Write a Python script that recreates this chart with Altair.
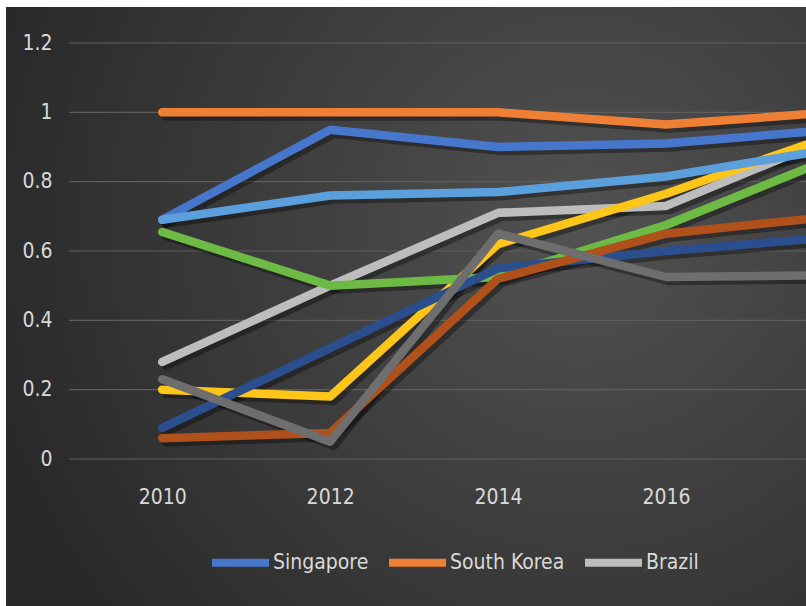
import altair as alt
import pandas as pd

years = [2010, 2012, 2014, 2016, 2018]
series_names = ["Singapore", "South Korea", "Brazil", "Series 4", "Series 5",
                "Series 6", "Series 7", "Series 8", "Series 9"]
singapore = [0.69, 0.95, 0.90, 0.91, 0.95]
south_korea = [1.0, 1.0, 1.0, 0.965, 1.0]
brazil = [0.28, 0.50, 0.71, 0.73, 0.93]
series4 = [0.20, 0.18, 0.62, 0.765, 0.935]
series5 = [0.69, 0.76, 0.77, 0.815, 0.895]
series6 = [0.655, 0.50, 0.525, 0.675, 0.87]
series7 = [0.09, 0.32, 0.55, 0.60, 0.64]
series8 = [0.06, 0.075, 0.52, 0.65, 0.70]
series9 = [0.23, 0.05, 0.65, 0.525, 0.53]
all_values = [singapore, south_korea, brazil, series4, series5,
              series6, series7, series8, series9]
colors = ["#4677CC", "#EE7F34", "#BDBDBD", "#FFC61A", "#5BA0DC",
          "#6DBB45", "#2B4F8E", "#B0501A", "#6E6E6E"]
legend_names = ["Singapore", "South Korea", "Brazil"]
y_ticks = [0, 0.2, 0.4, 0.6, 0.8, 1.0, 1.2]
x_ticks = [2010, 2012, 2014, 2016]

FONT = "DejaVu Sans Condensed, Liberation Sans Narrow, sans-serif"
TXT = "#d9d9d9"

rows = []
for name, vals in zip(series_names, all_values):
    for yr, v in zip(years, vals):
        rows.append({"series": name, "year": yr, "value": v})
df = pd.DataFrame(rows)

xscale = alt.Scale(domain=[2008.89, 2017.667], nice=False, zero=False)
yscale = alt.Scale(domain=[0, 1.2], nice=False)
xaxis = alt.Axis(values=x_ticks, format="d", title=None, grid=False, ticks=False,
                 tickSize=0, domain=False, labelFont=FONT, labelFontSize=21,
                 labelColor=TXT, labelPadding=38, labelBaseline="middle", zindex=2)
yaxis = alt.Axis(values=y_ticks, format="~g", title=None, grid=False, ticks=False,
                 tickSize=0, domain=False, labelFont=FONT, labelFontSize=21,
                 labelColor=TXT, labelPadding=17, zindex=2)
color = alt.Color(
    "series:N",
    scale=alt.Scale(domain=series_names, range=colors),
    legend=alt.Legend(values=legend_names, orient="none", legendX=139, legendY=487,
                      direction="horizontal", symbolType="stroke", symbolSize=3249,
                      symbolStrokeWidth=8, labelFont=FONT, labelFontSize=21,
                      labelColor=TXT, labelOffset=0, columnPadding=4, title=None,
                      padding=0, zindex=2),
)

bg = alt.Chart(pd.DataFrame({"k": [0]})).mark_rect(
    fill=alt.Gradient(
        gradient="radial",
        stops=[alt.GradientStop(color="#525252", offset=0),
               alt.GradientStop(color="#282828", offset=1)],
        x1=0.72, y1=0.4, x2=0.72, y2=0.4, r1=0, r2=0.78,
    )
).encode(x=alt.value(-63), x2=alt.value(737), y=alt.value(-36), y2=alt.value(563))

grid = alt.Chart(pd.DataFrame({"v": y_ticks})).mark_rule(
    color="#5e5e5e", strokeWidth=1.2
).encode(y=alt.Y("v:Q", scale=yscale, axis=yaxis))

shadow = alt.Chart(df).transform_calculate(
    xs="datum.year + 0.045", ys="datum.value - 0.011"
).mark_line(strokeWidth=9, strokeCap="round", strokeJoin="round",
            color="#000000", opacity=0.35, clip=True).encode(
    x=alt.X("xs:Q", scale=xscale, axis=xaxis),
    y=alt.Y("ys:Q", scale=yscale, axis=yaxis),
    detail="series:N",
)

lines = []
for name in series_names:
    lines.append(
        alt.Chart(df).transform_filter(alt.datum.series == name).mark_line(
            strokeWidth=8.5, strokeCap="round", strokeJoin="round", clip=True
        ).encode(
            x=alt.X("year:Q", scale=xscale, axis=xaxis),
            y=alt.Y("value:Q", scale=yscale, axis=yaxis),
            color=color,
        )
    )

chart = alt.layer(bg, grid, shadow, *lines).properties(
    width=737, height=416,
    autosize=alt.AutoSizeParams(type="none"),
    padding={"left": 69, "top": 43, "right": 0, "bottom": 147},
).configure(background="white").configure_view(stroke=None)

chart.save("out.html", embed_options={"renderer": "svg", "actions": False})
